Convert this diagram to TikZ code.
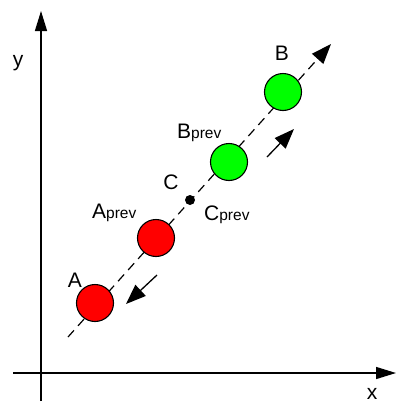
\documentclass[tikz,border=0pt]{standalone}
\usepackage{fontspec}
\setmainfont{Liberation Sans}
\usetikzlibrary{arrows.meta}
\tikzset{
  lbl/.style={font=\fontsize{21}{21}\selectfont, inner sep=0pt},
  axis/.style={line width=1.4pt, -{Triangle[length=20pt,width=12pt]}},
  ball/.style={circle, draw=black, line width=1.1pt, minimum size=37pt, inner sep=0pt},
  mv/.style={line width=1.3pt, -{Triangle[length=20pt,width=15pt]}},
  path/.style={line width=1.2pt, dash pattern=on 9pt off 6pt},
}
\newcommand{\sprev}{{\fontsize{15.5}{15.5}\selectfont prev}}
\begin{document}
\begin{tikzpicture}[x=1pt,y=-1pt]
\useasboundingbox (0,0) rectangle (396,405);
% axes
\coordinate (yb) at (41,401);
\coordinate (yt) at (41,11);
\coordinate (xl) at (13,373);
\coordinate (xr) at (396,373);
\draw[axis] (yb) -- (yt);
\draw[axis] (xl) -- (xr);
\node[lbl] (ylab) at (18,63) {y};
\node[lbl] (xlab) at (372,394) {x};
% dashed path
\coordinate (ps) at (68,337);
\coordinate (pe) at (331,44);
\draw[path, -{Triangle[length=20pt,width=15pt]}] (ps) -- (pe);
% balls
\node[ball, fill={rgb,255:red,0;green,255;blue,0}] (B) at (283,92) {};
\node[ball, fill={rgb,255:red,0;green,255;blue,0}] (Bp) at (229,162) {};
\node[ball, fill=red] (Ap) at (156,238) {};
\node[ball, fill=red] (A) at (95,303) {};
\node[circle, fill=black, minimum size=10pt, inner sep=0pt] (C) at (190,200) {};
% motion arrows
\coordinate (m1s) at (267,157);
\coordinate (m1e) at (294,129);
\coordinate (m2s) at (157,275);
\coordinate (m2e) at (126,304);
\draw[mv] (m1s) -- (m1e);
\draw[mv] (m2s) -- (m2e);
% labels
\node[lbl] (Bl) at (282,53) {B};
\node[lbl, anchor=base west] (Bpl) at (177,138) {B\sprev};
\node[lbl, anchor=base west] (Apl) at (92,218) {A\sprev};
\node[lbl] (Al) at (75,280) {A};
\node[lbl] (Cl) at (171,182) {C};
\node[lbl, anchor=base west] (Cpl) at (204,220) {C\sprev};
\end{tikzpicture}
\end{document}
